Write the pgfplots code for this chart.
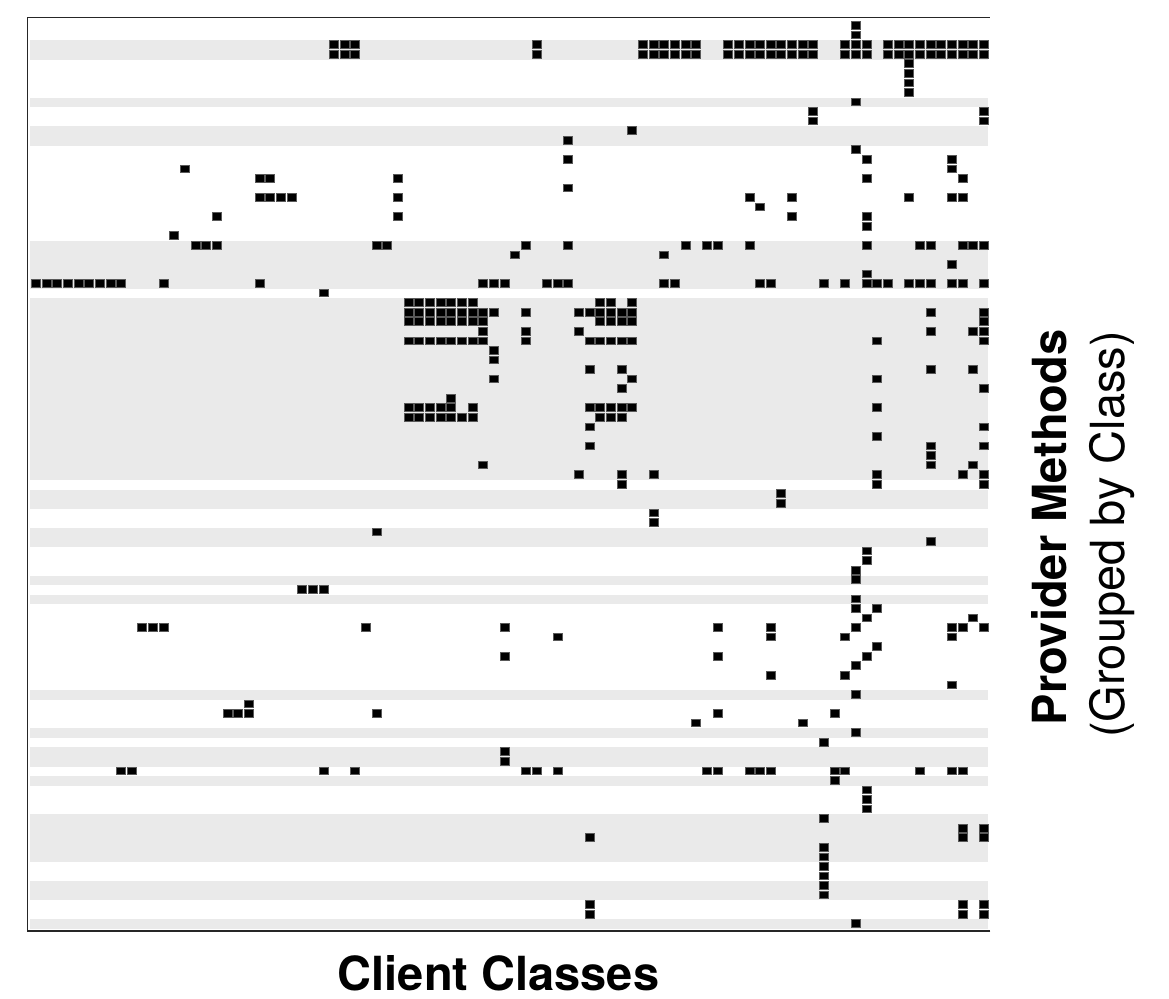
\documentclass[border=0pt]{standalone}
\usepackage{pgfplots}
\pgfplotsset{compat=1.18}
\usepackage{fontspec}
\setmainfont{TeX Gyre Heros}
\definecolor{band}{RGB}{234,234,234}
\pgfdeclareplotmark{cell}{\pgfpathrectangle{\pgfpoint{-4.5pt}{-3.85pt}}{\pgfpoint{9pt}{7.7pt}}\pgfusepathqfillstroke}
\newcommand{\band}[2]{\addplot[fill=band,draw=none] coordinates {(-0.55,#1)(89.45,#1)(89.45,#2)(-0.55,#2)};}
\begin{document}
\begin{tikzpicture}
\begin{axis}[scale only axis,
  width=963pt, height=913.3pt,
  xmin=-0.779, xmax=89.64, ymin=-0.806, ymax=94.77, y dir=reverse,
  hide axis, clip=false]
\path (axis cs:-3.362,-2.658) rectangle (axis cs:106.404,101.88);
\band{1.57}{3.57}
\band{7.57}{8.57}
\band{10.57}{12.57}
\band{22.57}{27.57}
\band{28.57}{47.57}
\band{48.57}{50.57}
\band{52.57}{54.57}
\band{57.57}{58.57}
\band{59.57}{60.57}
\band{69.57}{70.57}
\band{73.57}{74.57}
\band{75.57}{77.57}
\band{78.57}{79.57}
\band{82.57}{87.57}
\band{89.57}{91.57}
\band{93.57}{94.57}
\addplot[only marks, mark=cell, mark options={fill=black, draw=black!65, line width=0.7pt}] coordinates {
(77,0)(77,1)
(28,2)(29,2)(30,2)(47,2)(57,2)(58,2)(59,2)(60,2)(61,2)(62,2)(65,2)(66,2)(67,2)(68,2)(69,2)(70,2)(71,2)(72,2)(73,2)(76,2)(77,2)(78,2)(80,2)(81,2)(82,2)(83,2)(84,2)(85,2)(86,2)(87,2)(88,2)(89,2)
(28,3)(29,3)(30,3)(47,3)(57,3)(58,3)(59,3)(60,3)(61,3)(62,3)(65,3)(66,3)(67,3)(68,3)(69,3)(70,3)(71,3)(72,3)(73,3)(76,3)(77,3)(78,3)(80,3)(81,3)(82,3)(83,3)(84,3)(85,3)(86,3)(87,3)(88,3)(89,3)
(82,4)(82,5)(82,6)(82,7)
(77,8)
(73,9)(89,9)
(73,10)(89,10)
(56,11)
(50,12)
(77,13)
(50,14)(78,14)(86,14)
(14,15)(86,15)
(21,16)(22,16)(34,16)(78,16)(87,16)
(50,17)
(21,18)(22,18)(23,18)(24,18)(34,18)(67,18)(71,18)(82,18)(86,18)(87,18)
(68,19)
(17,20)(34,20)(71,20)(78,20)
(78,21)
(13,22)
(15,23)(16,23)(17,23)(32,23)(33,23)(46,23)(50,23)(61,23)(63,23)(64,23)(67,23)(78,23)(83,23)(84,23)(87,23)(88,23)(89,23)
(45,24)(59,24)
(86,25)
(78,26)
(0,27)(1,27)(2,27)(3,27)(4,27)(5,27)(6,27)(7,27)(8,27)(12,27)(21,27)(42,27)(43,27)(44,27)(48,27)(49,27)(50,27)(59,27)(60,27)(68,27)(69,27)(74,27)(76,27)(78,27)(79,27)(80,27)(82,27)(83,27)(84,27)(86,27)(87,27)(89,27)
(27,28)
(35,29)(36,29)(37,29)(38,29)(39,29)(40,29)(41,29)(53,29)(54,29)(56,29)
(35,30)(36,30)(37,30)(38,30)(39,30)(40,30)(41,30)(42,30)(43,30)(46,30)(51,30)(52,30)(53,30)(54,30)(55,30)(56,30)(84,30)(89,30)
(35,31)(36,31)(37,31)(38,31)(39,31)(40,31)(41,31)(42,31)(53,31)(54,31)(55,31)(56,31)(89,31)
(42,32)(46,32)(51,32)(84,32)(88,32)(89,32)
(35,33)(36,33)(37,33)(38,33)(39,33)(40,33)(41,33)(42,33)(46,33)(52,33)(53,33)(54,33)(55,33)(56,33)(79,33)(89,33)
(43,34)
(43,35)
(52,36)(55,36)(84,36)(88,36)
(43,37)(56,37)(79,37)
(55,38)(89,38)
(39,39)
(35,40)(36,40)(37,40)(38,40)(39,40)(41,40)(52,40)(53,40)(54,40)(55,40)(56,40)(79,40)
(35,41)(36,41)(37,41)(38,41)(39,41)(40,41)(41,41)(53,41)(54,41)(55,41)
(52,42)(89,42)
(79,43)
(52,44)(84,44)(89,44)
(84,45)
(42,46)(84,46)(88,46)
(51,47)(55,47)(58,47)(79,47)(87,47)(89,47)
(55,48)(79,48)(89,48)
(70,49)
(70,50)
(58,51)
(58,52)
(32,53)
(84,54)
(78,55)
(78,56)
(77,57)
(77,58)
(25,59)(26,59)(27,59)
(77,60)
(77,61)(79,61)
(78,62)(88,62)
(10,63)(11,63)(12,63)(31,63)(44,63)(64,63)(69,63)(77,63)(86,63)(87,63)(89,63)
(49,64)(69,64)(76,64)(86,64)
(79,65)
(44,66)(64,66)(78,66)
(77,67)
(69,68)(76,68)
(86,69)
(77,70)
(20,71)
(18,72)(19,72)(20,72)(32,72)(64,72)(75,72)
(62,73)(72,73)
(77,74)
(74,75)
(44,76)
(44,77)
(8,78)(9,78)(27,78)(30,78)(46,78)(47,78)(49,78)(63,78)(64,78)(67,78)(68,78)(69,78)(75,78)(76,78)(83,78)(86,78)(87,78)
(75,79)
(78,80)(78,81)(78,82)
(74,83)
(87,84)(89,84)
(52,85)(87,85)(89,85)
(74,86)(74,87)(74,88)(74,89)(74,90)(74,91)
(52,92)(87,92)(89,92)
(52,93)(87,93)(89,93)
(77,94)
};
\draw[black!85, line width=1.2pt] (rel axis cs:1,0) -- (rel axis cs:0,0) -- (rel axis cs:0,1) -- (rel axis cs:1,1);
\node[anchor=base, inner sep=0pt, font=\fontsize{47}{56}\selectfont\bfseries] at (axis cs:43.45,100.95) {Client Classes};
\node[anchor=base, inner sep=0pt, rotate=90, font=\fontsize{47}{56}\selectfont\bfseries] at (axis cs:96.80,52.54) {Provider Methods};
\node[anchor=base, inner sep=0pt, rotate=90, font=\fontsize{47}{56}\selectfont] at (axis cs:102.27,53.27) {(Grouped by Class)};
\end{axis}
\end{tikzpicture}
\end{document}
